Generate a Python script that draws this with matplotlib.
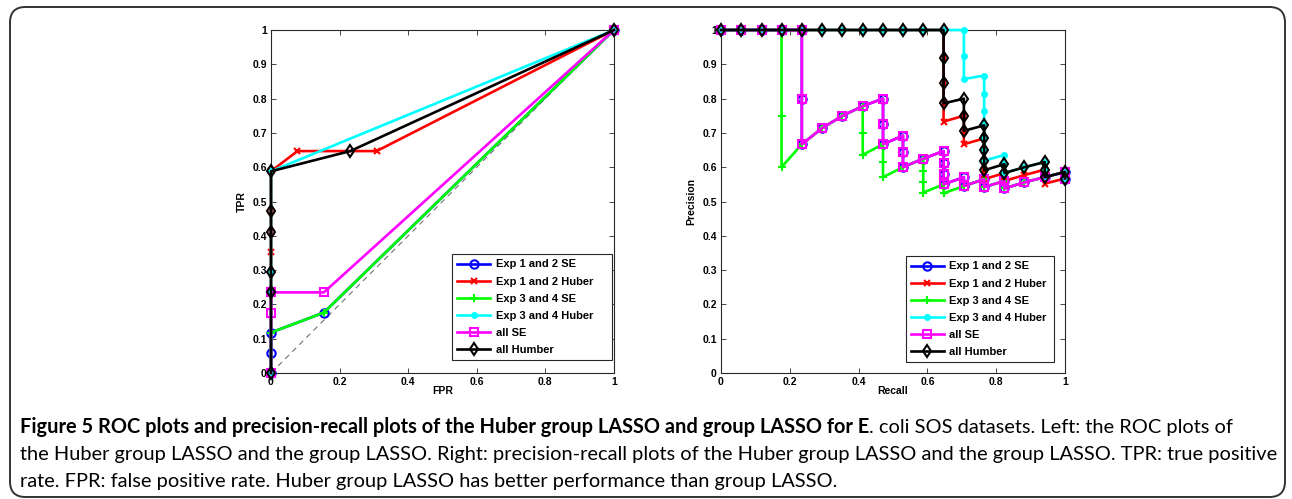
import matplotlib
matplotlib.use("Agg")
import matplotlib.pyplot as plt
from matplotlib.patches import FancyBboxPatch

# ---------------- data ----------------
series_labels = ["Exp 1 and 2 SE", "Exp 1 and 2 Huber", "Exp 3 and 4 SE",
                 "Exp 3 and 4 Huber", "all SE", "all Humber"]

# ROC (FPR, TPR)
roc_blue_fpr = [0, 0, 0, 0.154, 1]
roc_blue_tpr = [0, 0.059, 0.118, 0.176, 1]
roc_red_fpr = [0, 0, 0, 0, 0, 0.077, 0.308, 1]
roc_red_tpr = [0, 0.353, 0.412, 0.471, 0.588, 0.647, 0.647, 1]
roc_green_fpr = [0, 0, 0.154, 1]
roc_green_tpr = [0, 0.118, 0.176, 1]
roc_cyan_fpr = [0, 0, 0, 0, 1]
roc_cyan_tpr = [0, 0.235, 0.294, 0.588, 1]
roc_mag_fpr = [0, 0, 0, 0.154, 1]
roc_mag_tpr = [0, 0.176, 0.235, 0.235, 1]
roc_black_fpr = [0, 0, 0, 0, 0, 0, 0.231, 1]
roc_black_tpr = [0, 0.235, 0.294, 0.412, 0.471, 0.588, 0.647, 1]

# Precision-recall (recall, precision)
pr_mag_rec = [0, 0.059, 0.118, 0.176, 0.235, 0.235, 0.235, 0.294, 0.353, 0.412,
              0.471, 0.471, 0.471, 0.529, 0.529, 0.529, 0.588, 0.647, 0.647, 0.647,
              0.647, 0.706, 0.706, 0.765, 0.765, 0.824, 0.824, 0.882, 0.941, 1, 1]
pr_mag_prec = [1, 1, 1, 1, 1, 0.8, 0.667, 0.714, 0.75, 0.778,
               0.8, 0.727, 0.667, 0.692, 0.643, 0.6, 0.625, 0.647, 0.611, 0.579,
               0.55, 0.571, 0.545, 0.565, 0.542, 0.56, 0.538, 0.556, 0.571, 0.586, 0.567]
pr_blue_rec = list(pr_mag_rec)
pr_blue_prec = list(pr_mag_prec)

pr_green_rec = [0, 0.059, 0.118, 0.176, 0.176, 0.176, 0.235, 0.294, 0.353, 0.412,
                0.412, 0.412, 0.471, 0.471, 0.471, 0.529, 0.588, 0.588, 0.588, 0.588,
                0.647, 0.647, 0.706, 0.765, 0.765, 0.824, 0.824, 0.882, 0.941, 1, 1]
pr_green_prec = [1, 1, 1, 1, 0.75, 0.6, 0.667, 0.714, 0.75, 0.778,
                 0.7, 0.636, 0.667, 0.615, 0.571, 0.6, 0.625, 0.588, 0.556, 0.526,
                 0.55, 0.524, 0.545, 0.565, 0.542, 0.56, 0.538, 0.556, 0.571, 0.586, 0.567]

pr_red_rec = [0, 0.059, 0.118, 0.176, 0.235, 0.294, 0.353, 0.412, 0.471, 0.529, 0.588,
              0.647, 0.647, 0.647, 0.647, 0.647, 0.706, 0.706, 0.706, 0.765, 0.765,
              0.765, 0.765, 0.765, 0.824, 0.824, 0.882, 0.941, 0.941, 0.941, 1]
pr_red_prec = [1, 1, 1, 1, 1, 1, 1, 1, 1, 1, 1,
               1, 0.917, 0.846, 0.786, 0.733, 0.75, 0.706, 0.667, 0.684, 0.65,
               0.619, 0.591, 0.565, 0.583, 0.56, 0.577, 0.593, 0.571, 0.552, 0.567]

pr_cyan_rec = [0, 0.059, 0.118, 0.176, 0.235, 0.294, 0.353, 0.412, 0.471, 0.529, 0.588,
               0.647, 0.706, 0.706, 0.706, 0.765, 0.765, 0.765, 0.765, 0.765, 0.765,
               0.765, 0.824, 0.824, 0.824, 0.882, 0.941, 0.941, 0.941, 1, 1]
pr_cyan_prec = [1, 1, 1, 1, 1, 1, 1, 1, 1, 1, 1,
                1, 1, 0.923, 0.857, 0.867, 0.813, 0.765, 0.722, 0.684, 0.65,
                0.619, 0.636, 0.609, 0.583, 0.6, 0.615, 0.593, 0.571, 0.586, 0.567]

pr_black_rec = [0, 0.059, 0.118, 0.176, 0.235, 0.294, 0.353, 0.412, 0.471, 0.529, 0.588,
                0.647, 0.647, 0.647, 0.647, 0.706, 0.706, 0.706, 0.765, 0.765, 0.765,
                0.765, 0.765, 0.824, 0.824, 0.882, 0.941, 0.941, 0.941, 1, 1]
pr_black_prec = [1, 1, 1, 1, 1, 1, 1, 1, 1, 1, 1,
                 1, 0.917, 0.846, 0.786, 0.8, 0.75, 0.706, 0.722, 0.684, 0.65,
                 0.619, 0.591, 0.609, 0.583, 0.6, 0.615, 0.593, 0.571, 0.586, 0.567]

x_ticks = [0, 0.2, 0.4, 0.6, 0.8, 1]
x_ticklabels = ["0", "0.2", "0.4", "0.6", "0.8", "1"]
y_ticks = [0, 0.1, 0.2, 0.3, 0.4, 0.5, 0.6, 0.7, 0.8, 0.9, 1]
y_ticklabels = ["0", "0.1", "0.2", "0.3", "0.4", "0.5", "0.6", "0.7", "0.8", "0.9", "1"]

caption_bold = "Figure 5 ROC plots and precision-recall plots of the Huber group LASSO and group LASSO for E"
caption_rest1 = ". coli SOS datasets. Left: the ROC plots of"
caption_line2 = ("the Huber group LASSO and the group LASSO. Right: precision-recall plots of the "
                 "Huber group LASSO and the group LASSO. TPR: true positive")
caption_line3 = "rate. FPR: false positive rate. Huber group LASSO has better performance than group LASSO."

# ---------------- styles ----------------
W, H = 1292, 499
DPI = 100
styles = [
    dict(color=(0, 0, 1), marker="o", mfc="none", ms=6, mew=1.5),
    dict(color=(1, 0, 0), marker="x", ms=5, mew=1.5),
    dict(color=(0, 1, 0), marker="+", ms=6, mew=1.5),
    dict(color=(0, 1, 1), marker=".", ms=8),
    dict(color=(1, 0, 1), marker="s", mfc="none", ms=6, mew=1.5),
    dict(color=(0, 0, 0), marker="d", mfc="none", ms=6, mew=1.5),
]
LW = 1.9

plt.rcParams["font.family"] = ["Liberation Sans", "DejaVu Sans"]

fig = plt.figure(figsize=(W / DPI, H / DPI), dpi=DPI)
fig.patch.set_facecolor("white")


def px_axes(x0, x1, y0, y1):
    return fig.add_axes([x0 / W, 1 - y1 / H, (x1 - x0) / W, (y1 - y0) / H])


def style_axes(ax, xlabel, ylabel):
    ax.set_xlim(0, 1)
    ax.set_ylim(0, 1)
    ax.set_xticks(x_ticks)
    ax.set_xticklabels(x_ticklabels)
    ax.set_yticks(y_ticks)
    ax.set_yticklabels(y_ticklabels)
    ax.tick_params(direction="in", length=3.5, width=0.6, top=True, right=True,
                   labelsize=7.5, pad=3, color="#262626")
    for lab in ax.get_xticklabels() + ax.get_yticklabels():
        lab.set_fontweight("bold")
    for s in ax.spines.values():
        s.set_linewidth(0.8)
        s.set_color("#262626")
    ax.set_xlabel(xlabel, fontsize=7.5, fontweight="bold", labelpad=-1)
    ax.set_ylabel(ylabel, fontsize=7.5, fontweight="bold", labelpad=4)


def add_legend(ax, x0, x1, y1_px, ax_x0):
    leg = ax.legend(loc="lower left",
                    bbox_to_anchor=((x0 - ax_x0) / 343, (373 - y1_px) / 343, (x1 - x0) / 343, 0.3),
                    mode="expand", borderaxespad=0,
                    prop=dict(size=8, weight="bold"), fancybox=False, framealpha=1,
                    edgecolor="#262626", handlelength=3.0, labelspacing=0.64,
                    handletextpad=0.5, borderpad=0.45)
    leg.get_frame().set_linewidth(0.8)
    return leg


# ---------------- ROC ----------------
ax1 = px_axes(271, 614, 30, 373)
ax1.plot([0, 1], [0, 1], linestyle=(0, (5, 4)), color="0.45", lw=0.8, zorder=1)
roc = [(roc_blue_fpr, roc_blue_tpr), (roc_red_fpr, roc_red_tpr),
       (roc_green_fpr, roc_green_tpr), (roc_cyan_fpr, roc_cyan_tpr),
       (roc_mag_fpr, roc_mag_tpr), (roc_black_fpr, roc_black_tpr)]
for (xs, ys), st, lab in zip(roc, styles, series_labels):
    ax1.plot(xs, ys, lw=LW, label=lab, clip_on=False, zorder=3, **st)
style_axes(ax1, "FPR", "TPR")
add_legend(ax1, 452, 612, 360, 271)

# ---------------- PR ----------------
ax2 = px_axes(721, 1065, 30, 373)
pr = [(pr_blue_rec, pr_blue_prec), (pr_red_rec, pr_red_prec),
      (pr_green_rec, pr_green_prec), (pr_cyan_rec, pr_cyan_prec),
      (pr_mag_rec, pr_mag_prec), (pr_black_rec, pr_black_prec)]
for (xs, ys), st, lab in zip(pr, styles, series_labels):
    ax2.plot(xs, ys, lw=LW, label=lab, clip_on=False, zorder=3, **st)
style_axes(ax2, "Recall", "Precision")
add_legend(ax2, 905, 1053, 362, 721)

# ---------------- border ----------------
border = FancyBboxPatch((10 / W, 1 - 497 / H), (1285 - 10) / W, (497 - 7) / H,
                        boxstyle="round,pad=0,rounding_size=0.012",
                        transform=fig.transFigure, facecolor="none",
                        edgecolor="#333333", lw=1.4, zorder=0,
                        mutation_aspect=W / H)
fig.patches.append(border)

# ---------------- caption ----------------
cap_family = ["Lato", "Open Sans", "DejaVu Sans"]
x_left = 20
ys = [427, 454.5, 482]
fs = 12.0
renderer = fig.canvas.get_renderer()
t1 = fig.text(x_left / W, 1 - ys[0] / H, caption_bold, fontsize=fs, fontweight="bold",
              family=cap_family, va="center", ha="left")
t2 = fig.text(0, 1 - ys[0] / H, caption_rest1, fontsize=fs, family=cap_family,
              va="center", ha="left")
t3 = fig.text(x_left / W, 1 - ys[1] / H, caption_line2, fontsize=fs, family=cap_family,
              va="center", ha="left")
t4 = fig.text(x_left / W, 1 - ys[2] / H, caption_line3, fontsize=fs, family=cap_family,
              va="center", ha="left")
w1 = t1.get_window_extent(renderer).width + t2.get_window_extent(renderer).width
w2 = t3.get_window_extent(renderer).width
fs = min(fs * (1278 - x_left) / w1, fs * (1272 - x_left) / w2)
for t in (t1, t2, t3, t4):
    t.set_fontsize(fs)
bb = t1.get_window_extent(renderer)
t2.set_x(bb.x1 / W)

fig.savefig("out.png", dpi=DPI)
